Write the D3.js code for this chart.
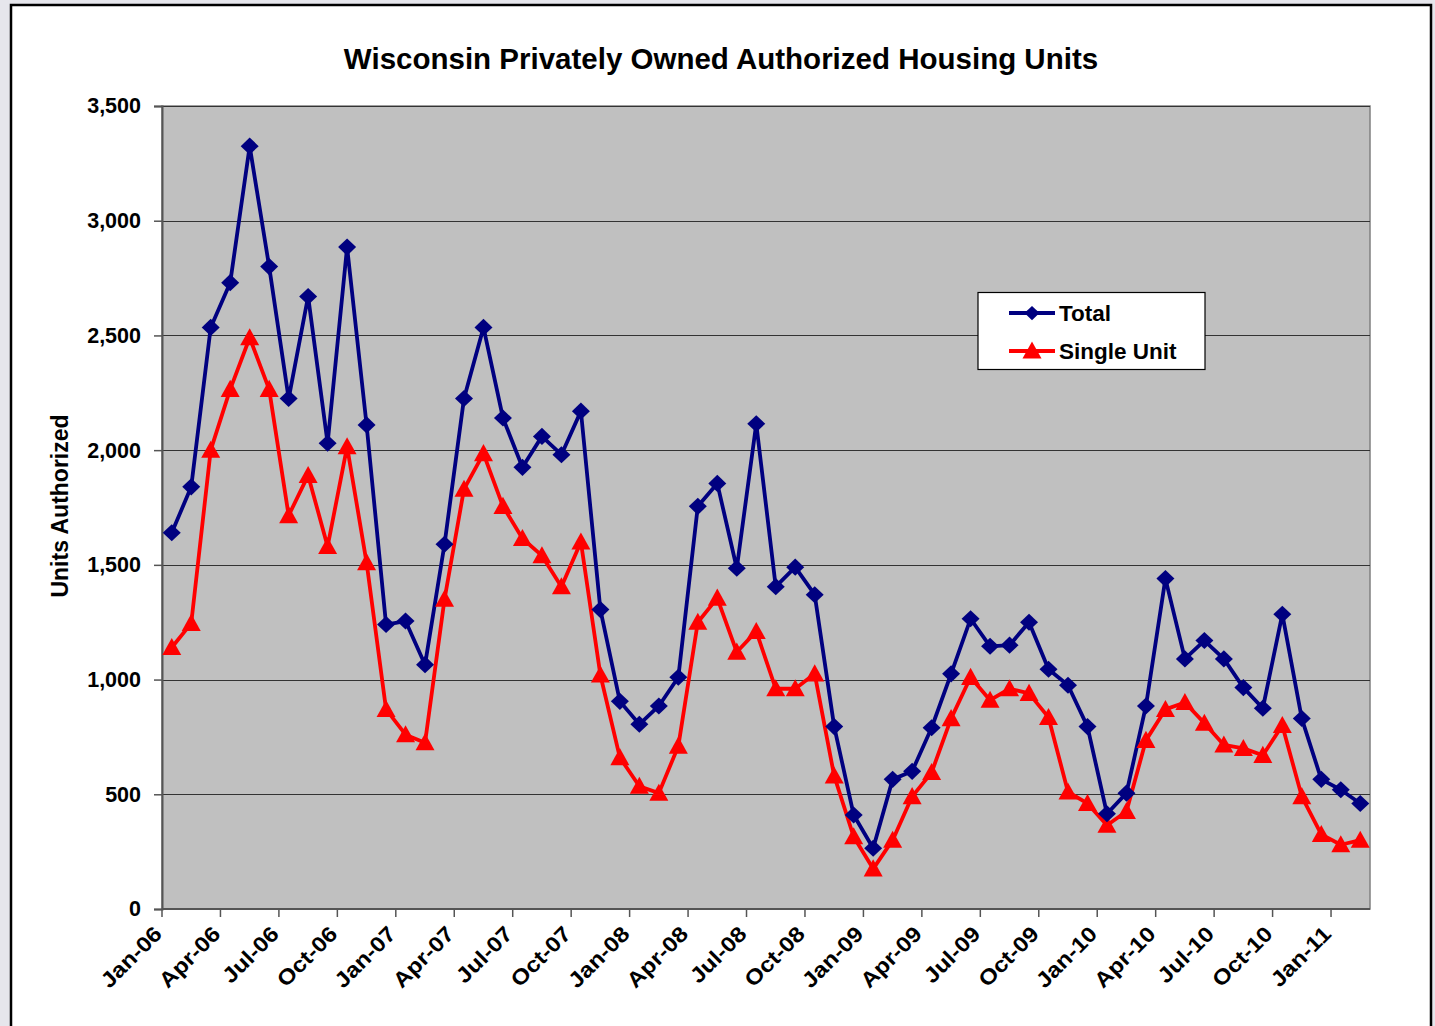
<!DOCTYPE html>
<html>
<head>
<meta charset="utf-8">
<script src="https://cdn.jsdelivr.net/npm/d3@7"></script>
<style>
  html, body { margin: 0; padding: 0; background: #e6e6ec; }
  svg { display: block; font-family: "Liberation Sans", Arial, sans-serif; }
</style>
</head>
<body>
<svg id="chart" width="1435" height="1026"></svg>
<script>
const months = [
  "Jan-06","Feb-06","Mar-06","Apr-06","May-06","Jun-06","Jul-06","Aug-06","Sep-06","Oct-06","Nov-06","Dec-06",
  "Jan-07","Feb-07","Mar-07","Apr-07","May-07","Jun-07","Jul-07","Aug-07","Sep-07","Oct-07","Nov-07","Dec-07",
  "Jan-08","Feb-08","Mar-08","Apr-08","May-08","Jun-08","Jul-08","Aug-08","Sep-08","Oct-08","Nov-08","Dec-08",
  "Jan-09","Feb-09","Mar-09","Apr-09","May-09","Jun-09","Jul-09","Aug-09","Sep-09","Oct-09","Nov-09","Dec-09",
  "Jan-10","Feb-10","Mar-10","Apr-10","May-10","Jun-10","Jul-10","Aug-10","Sep-10","Oct-10","Nov-10","Dec-10",
  "Jan-11","Feb-11"
];
const totalUnits = [
  1640,1840,2535,2730,3325,2800,2225,2670,2030,2885,2110,1240,
  1255,1065,1590,2225,2535,2140,1925,2060,1980,2170,1305,905,
  805,885,1010,1755,1855,1485,2115,1405,1490,1370,795,410,
  265,565,600,790,1025,1265,1145,1150,1250,1045,975,795,
  415,505,885,1440,1090,1170,1090,965,875,1285,830,565,
  520,460
];
const singleUnits = [
  1140,1245,2000,2265,2490,2265,1715,1890,1580,2015,1510,870,
  760,725,1350,1830,1985,1755,1615,1540,1405,1600,1020,660,
  535,505,710,1250,1355,1120,1210,960,960,1025,580,315,
  175,300,490,595,830,1010,910,960,940,835,510,460,
  365,425,735,870,900,810,715,700,670,800,490,325,
  280,300
];
const yTicks = [0,500,1000,1500,2000,2500,3000,3500];
const xTickLabels = months.filter((m, i) => i % 3 === 0);
const seriesNames = ["Total","Single Unit"];

const svg = d3.select("#chart");

// outer frame
svg.append("rect").attr("x", 11).attr("y", 5).attr("width", 1420).attr("height", 1030)
  .attr("fill", "#fff").attr("stroke", "#000").attr("stroke-width", 2.5);

const pLeft = 162, pRight = 1370, pTop = 106, pBottom = 909;

const x = d3.scaleBand().domain(months).range([pLeft, pRight]).padding(0);
const y = d3.scaleLinear().domain([0, 3500]).range([pBottom, pTop]);
const cx = m => x(m) + x.bandwidth() / 2;

// plot area
svg.append("rect").attr("x", pLeft).attr("y", pTop).attr("width", pRight - pLeft).attr("height", pBottom - pTop)
  .attr("fill", "#c0c0c0").attr("stroke", "#808080").attr("stroke-width", 1.5);

// gridlines
svg.append("g").selectAll("line").data(yTicks.filter(v => v > 0)).join("line")
  .attr("x1", pLeft).attr("x2", pRight)
  .attr("y1", d => Math.round(y(d)) + 0.5).attr("y2", d => Math.round(y(d)) + 0.5)
  .attr("stroke", "#333").attr("stroke-width", 1.2);

// y axis
const yAxis = d3.axisLeft(y).tickValues(yTicks).tickFormat(d3.format(",")).tickSizeOuter(0).tickSize(8).tickPadding(13);
const gy = svg.append("g").attr("transform", `translate(${pLeft},0)`).call(yAxis);
gy.select(".domain").attr("stroke", "#555").attr("stroke-width", 2);
gy.selectAll(".tick line").attr("stroke", "#555").attr("stroke-width", 1.5);
gy.selectAll(".tick text").attr("font-size", 21.5).attr("font-weight", "bold").attr("fill", "#000")
  .attr("font-family", "Liberation Sans, Arial, sans-serif");

// x axis
const gx = svg.append("g").attr("transform", `translate(0,${pBottom})`);
gx.append("line").attr("x1", pLeft).attr("x2", pRight).attr("y1", 0).attr("y2", 0)
  .attr("stroke", "#555").attr("stroke-width", 2);
const xt = gx.selectAll("g.xt").data(xTickLabels).join("g").attr("class", "xt")
  .attr("transform", d => `translate(${x(d)},0)`);
xt.append("line").attr("y1", 0).attr("y2", 8).attr("stroke", "#555").attr("stroke-width", 1.5);
xt.append("text")
  .attr("transform", "translate(-4,21) rotate(-45) scale(1.12,1)")
  .attr("text-anchor", "end").attr("dy", "0.35em")
  .attr("font-size", 21.5).attr("font-weight", "bold").attr("fill", "#000")
  .text(d => d);

// lines
const lineGen = d3.line().x((d, i) => cx(months[i])).y(d => y(d));
svg.append("path").datum(singleUnits).attr("d", lineGen)
  .attr("fill", "none").attr("stroke", "#ff0000").attr("stroke-width", 3.8).attr("stroke-linejoin", "round");
svg.append("path").datum(totalUnits).attr("d", lineGen)
  .attr("fill", "none").attr("stroke", "#000080").attr("stroke-width", 3.8).attr("stroke-linejoin", "round");

const diamond = (px, py, r) => `M${px},${py - r * 0.95}L${px + r},${py}L${px},${py + r * 0.95}L${px - r},${py}Z`;
const tri = (px, py, r) => `M${px},${py - r}L${px + r},${py + r * 0.8}L${px - r},${py + r * 0.8}Z`;

svg.append("g").selectAll("path").data(singleUnits).join("path")
  .attr("d", (d, i) => tri(cx(months[i]), y(d), 9.5)).attr("fill", "#ff0000");
svg.append("g").selectAll("path").data(totalUnits).join("path")
  .attr("d", (d, i) => diamond(cx(months[i]), y(d), 9)).attr("fill", "#000080");

// title
svg.append("text").attr("x", 721).attr("y", 69).attr("text-anchor", "middle")
  .attr("font-size", 29.5).attr("font-weight", "bold").attr("fill", "#000")
  .text("Wisconsin Privately Owned Authorized Housing Units");

// y label
svg.append("text").attr("transform", "translate(68,506) rotate(-90)").attr("text-anchor", "middle")
  .attr("font-size", 23).attr("font-weight", "bold").attr("fill", "#000")
  .text("Units Authorized");

// legend
const lg = svg.append("g");
lg.append("rect").attr("x", 978).attr("y", 292.5).attr("width", 227).attr("height", 77)
  .attr("fill", "#fff").attr("stroke", "#000").attr("stroke-width", 1.2);
const colors = ["#000080", "#ff0000"];
seriesNames.forEach((name, i) => {
  const ly = 313 + i * 38;
  lg.append("line").attr("x1", 1009).attr("x2", 1055).attr("y1", ly).attr("y2", ly)
    .attr("stroke", colors[i]).attr("stroke-width", 3.8);
  lg.append("path").attr("d", i === 0 ? diamond(1032, ly, 7.5) : tri(1032, ly, 9.5)).attr("fill", colors[i]);
  lg.append("text").attr("x", 1059).attr("y", ly).attr("dy", "0.36em")
    .attr("font-size", 22.5).attr("font-weight", "bold").attr("fill", "#000").text(name);
});
</script>
</body>
</html>
